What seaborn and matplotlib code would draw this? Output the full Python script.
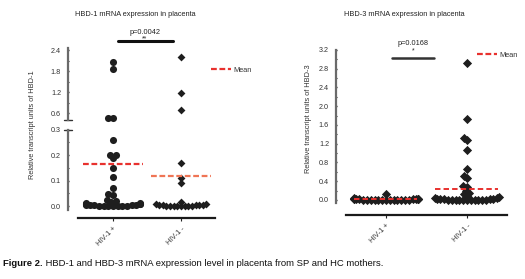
import pandas as pd
import seaborn as sns
import matplotlib.pyplot as plt
from matplotlib.lines import Line2D
from matplotlib.ticker import MultipleLocator

sns.set_style('ticks')
plt.rcParams['font.family'] = ['Liberation Sans', 'DejaVu Sans']

groups = ['HIV-1 +', 'HIV-1 -']

# HBD-1 (left panel, broken y axis)
hbd1_pos = [2.05, 1.85, 0.45, 0.45, 0.26, 0.20, 0.20, 0.188, 0.149, 0.114, 0.071,
            0.047, 0.043, 0.026, 0.022, 0.016, 0.014, 0.012, 0.010, 0.009, 0.008,
            0.007, 0.006, 0.005, 0.005, 0.004, 0.003, 0.002, 0.002, 0.001, 0.0,
            0.0, 0.0, 0.0]
hbd1_neg = [2.2, 1.17, 0.69, 0.168, 0.11, 0.092, 0.016, 0.01, 0.008, 0.006, 0.005,
            0.004, 0.003, 0.003, 0.002, 0.002, 0.001, 0.001, 0.0, 0.0, 0.0, 0.0]
hbd1_mean = [0.165, 0.117]

# HBD-3 (right panel)
hbd3_pos = [0.13, 0.04, 0.03, 0.028, 0.025, 0.022, 0.02, 0.018, 0.016, 0.014,
            0.012, 0.01, 0.009, 0.008, 0.007, 0.006, 0.005, 0.004, 0.003, 0.002,
            0.001, 0.0, 0.0, 0.0]
hbd3_neg = [2.92, 1.73, 1.33, 1.28, 1.06, 0.67, 0.52, 0.47, 0.30, 0.27, 0.19,
            0.14, 0.12, 0.08, 0.06, 0.05, 0.04, 0.03, 0.025, 0.02, 0.016, 0.012,
            0.01, 0.008, 0.006, 0.005, 0.004, 0.003, 0.002, 0.001, 0.0, 0.0, 0.0]
hbd3_mean = [0.02, 0.23]

hbd1 = pd.DataFrame({'group': [groups[0]] * len(hbd1_pos) + [groups[1]] * len(hbd1_neg),
                     'value': hbd1_pos + hbd1_neg})
hbd3 = pd.DataFrame({'group': [groups[0]] * len(hbd3_pos) + [groups[1]] * len(hbd3_neg),
                     'value': hbd3_pos + hbd3_neg})

W, H = 525, 279
fig = plt.figure(figsize=(5.25, 2.79), dpi=100)


def box(l, t, r, b):
    return [l / W, 1 - b / H, (r - l) / W, (b - t) / H]


def fx(x):
    return x / W


def fy(y):
    return 1 - y / H


ax_hi = fig.add_axes(box(68, 48, 215, 120))
ax_lo = fig.add_axes(box(68, 129.5, 215, 210))
ax_r = fig.add_axes(box(336, 50, 507, 202.8))

pt_color = '#1e1e1e'

for ax, df in [(ax_hi, hbd1[hbd1.value > 0.35]), (ax_lo, hbd1[hbd1.value <= 0.35])]:
    sns.swarmplot(data=df[df.group == groups[0]], x='group', y='value', order=groups,
                  ax=ax, marker='o', size=3.2, color=pt_color, linewidth=0, warn_thresh=1)
    sns.swarmplot(data=df[df.group == groups[1]], x='group', y='value', order=groups,
                  ax=ax, marker='D', size=2.5, color=pt_color, linewidth=0, warn_thresh=1)
sns.swarmplot(data=hbd3, x='group', y='value', order=groups, ax=ax_r, marker='D',
              size=2.6, color=pt_color, linewidth=0, warn_thresh=1)

ax_hi.set_ylim(0.4, 2.46)
ax_lo.set_ylim(-0.015, 0.3)
ax_r.set_ylim(-0.06, 3.2)
ax_hi.set_xlim(-0.662, 1.5)
ax_lo.set_xlim(-0.662, 1.5)
ax_r.set_xlim(-0.617, 1.494)

# freeze swarm layout, then enlarge markers to the overlapping look of the original
fig.canvas.draw()
shown = {ax_hi: [26, 16], ax_lo: [26, 16], ax_r: [22, 22]}
for ax in [ax_hi, ax_lo, ax_r]:
    for i, c in enumerate(ax.collections):
        if 'draw' in c.__dict__:
            del c.__dict__['draw']
        s = shown[ax][0] if (ax is ax_r or i % 2 == 0) else shown[ax][1]
        c.set_sizes([s])
        c.set_clip_on(False)

# mean lines
mean_cols = ['#e8312e', '#ef7555']
for i, m in enumerate(hbd1_mean):
    ax_lo.hlines(m, i - 0.44, i + 0.44, colors=mean_cols[i], lw=1.6,
                 linestyles=(0, (2.6, 1.2)), zorder=5)
for i, m in enumerate(hbd3_mean):
    ax_r.hlines(m, i - 0.4, i + 0.38, colors='#e8312e', lw=1.4,
                linestyles=(0, (2.8, 1.6)), zorder=5)

axis_col = '#6a6a6a'
for ax in [ax_hi, ax_lo, ax_r]:
    ax.set_xlabel('')
    ax.set_ylabel('')
    ax.spines['top'].set_visible(False)
    ax.spines['right'].set_visible(False)
    ax.spines['left'].set_color(axis_col)
    ax.spines['left'].set_linewidth(1.6)
    ax.tick_params(axis='y', which='major', length=2, width=1, color='#222222',
                   direction='inout', labelsize=5.2, labelcolor='#333333', pad=4)
    ax.tick_params(axis='y', which='minor', length=1.2, width=0.8, color='#222222',
                   direction='inout')
    ax.set_facecolor('none')

ax_hi.spines['bottom'].set_visible(False)
ax_hi.tick_params(axis='x', bottom=False, labelbottom=False)
ax_hi.set_yticks([0.6, 1.2, 1.8, 2.4])
ax_hi.yaxis.set_minor_locator(MultipleLocator(0.3))
ax_hi.set_yticklabels(['0.6', '1.2', '1.8', '2.4'])

ax_lo.set_yticks([0.0, 0.1, 0.2, 0.3])
ax_lo.set_yticklabels(['0.0', '0.1', '0.2', '0.3'])
ax_lo.yaxis.set_minor_locator(MultipleLocator(0.05))
ax_lo.set_ylim(-0.015, 0.3)

ax_r.set_yticks([0.0, 0.4, 0.8, 1.2, 1.6, 2.0, 2.4, 2.8, 3.2])
ax_r.set_yticklabels(['0.0', '0.4', '0.8', '1.2', '1.6', '2.0', '2.4', '2.8', '3.2'])
ax_r.yaxis.set_minor_locator(MultipleLocator(0.2))
ax_r.set_ylim(-0.06, 3.2)

# x axes (detached from the y axis)
for ax, off, lo, hi in [(ax_lo, 6, -0.515, 1.5), (ax_r, 9, -0.494, 1.494)]:
    ax.spines['bottom'].set_position(('outward', off))
    ax.spines['bottom'].set_bounds(lo, hi)
    ax.spines['bottom'].set_color('#1a1a1a')
    ax.spines['bottom'].set_linewidth(1.6)
    ax.set_xticks([0, 1])
    ax.set_xticklabels(groups, rotation=45, ha='right', rotation_mode='anchor',
                       fontsize=5.2, color='#333333')
    ax.tick_params(axis='x', length=2, width=0.8, color='#222222', pad=3)

# break marks
for ax, y in [(ax_hi, 0), (ax_lo, 1)]:
    ax.plot([-0.03, 0.03], [y, y], transform=ax.transAxes, color='#333333',
            lw=1.0, clip_on=False)

# titles
fig.text(fx(135), fy(15), 'HBD-1 mRNA expression in placenta', ha='center', va='center',
         fontsize=5.3, color='#222222')
fig.text(fx(404), fy(15), 'HBD-3 mRNA expression in placenta', ha='center', va='center',
         fontsize=5.3, color='#222222')

# y labels
fig.text(fx(33), fy(125), 'Relative transcript units of HBD-1', rotation=90,
         ha='center', va='center', fontsize=5.3, color='#333333')
fig.text(fx(308), fy(119), 'Relative transcript units of HBD-3', rotation=90,
         ha='center', va='center', fontsize=5.3, color='#333333')

# significance bars
fig.add_artist(Line2D([fx(118), fx(173)], [fy(41), fy(41)], color='#111111', lw=2.2))
fig.text(fx(145), fy(32), 'p=0.0042', ha='center', va='center', fontsize=5.3, color='#222222')
fig.text(fx(145), fy(39), '**', ha='center', va='center', fontsize=5, color='#222222')
fig.add_artist(Line2D([fx(392), fx(434)], [fy(58), fy(58)], color='#333333', lw=1.8))
fig.text(fx(413), fy(44), 'p=0.0168', ha='center', va='center', fontsize=5.3, color='#222222')
fig.text(fx(413), fy(51), '*', ha='center', va='center', fontsize=5, color='#222222')

# legends
mean_handle = Line2D([], [], color='#e8312e', lw=1.6, linestyle=(0, (2.6, 1.2)))
for x, y in [(211, 70), (477, 55)]:
    fig.legend(handles=[mean_handle], labels=['Mean'], loc='center left',
               bbox_to_anchor=(fx(x), fy(y)), frameon=False, fontsize=5.3,
               handlelength=2.7, handletextpad=0.4, borderpad=0, borderaxespad=0,
               labelcolor='#333333')

# caption
cap = fig.text(fx(3), fy(263), 'Figure 2.', ha='left', va='center', fontsize=6.8,
               fontweight='bold', color='#111111')
plt.annotate(' HBD-1 and HBD-3 mRNA expression level in placenta from SP and HC mothers.',
             xy=(1, 0.5), xycoords=cap, va='center', ha='left', fontsize=6.8,
             color='#111111')

fig.savefig('out.png', dpi=100)
